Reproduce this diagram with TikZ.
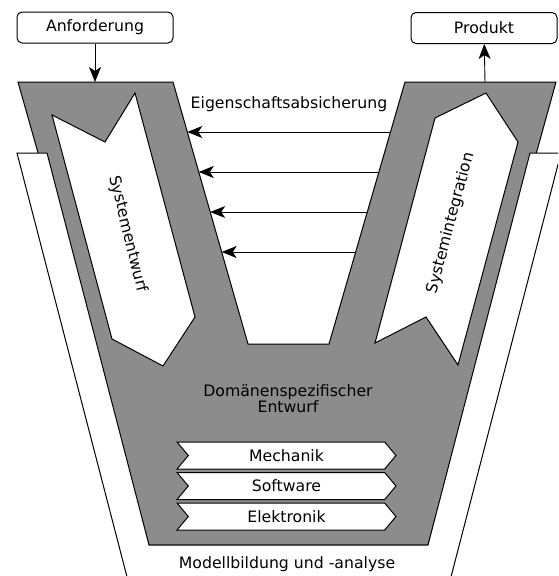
\documentclass[tikz,border=0pt]{standalone}
\usepackage{fontspec}
\setmainfont{DejaVu Sans}
\usetikzlibrary{arrows.meta,calc,shapes.symbols}
\definecolor{phasegray}{RGB}{140,140,140}
\tikzset{
    phase/.style={draw,line width=1pt,fill=phasegray},
    track/.style={draw,line width=1pt,fill=white},
    block/.style={draw,line width=1pt,fill=white,rounded corners=5pt,minimum width=#1,minimum height=31pt},
    discipline/.style={
        draw,line width=1pt,fill=white,shape=signal,signal from=west,signal to=east,
        signal pointer angle=100,minimum width=219pt,minimum height=27pt,inner sep=0pt
    },
    flow/.style={line width=0.9pt,-{Stealth[length=15pt,width=12pt,inset=4pt]}}
}
\begin{document}
\begin{tikzpicture}[x=1pt,y=-1pt,font=\fontsize{15.7}{15}\selectfont]
\useasboundingbox (0,0) rectangle (558,576);
\clip (0,0) rectangle (558,576);
\coordinate (lt) at (173,82);
\coordinate (lb) at (248,344);
\coordinate (rb) at (329,344);
\coordinate (rt) at (405,82);
\coordinate (in) at (95,82);
\coordinate (out) at (485,82);
\draw[phase] (18,82) -- (lt) -- (lb) -- (rb) -- (rt) -- (556,82) -- (428,545) -- (149,545) -- cycle;
\draw[track] (17,153) -- (47,153) -- (149,545) -- (428,545) -- (530,153) -- (561,153) -- (445,600) -- (133,600) -- cycle;
\draw[track] (52,115) -- (105,142) -- (135,93) -- (195,317) -- (163,366) -- (112,339) -- cycle;
\draw[track] (486,93) -- (518,142) -- (458,365) -- (426,317) -- (375,343) -- (435,118) -- cycle;
\node[rotate=-76] (entwurf) at (128,234) {Systementwurf};
\node[rotate=75] (integration) at (451,223) {Systemintegration};
\node (absicherung) at (289,104) {Eigenschaftsabsicherung};
\node[align=center] (domaene) at (288,399) {Domänenspezifischer\\Entwurf};
\node (modell) at (287,564) {Modellbildung und -analyse};
\node[discipline] (mech) at (286.5,455.5) {Mechanik};
\node[discipline] (soft) at (286.5,486) {Software};
\node[discipline] (elek) at (286.5,516.5) {Elektronik};
\node[block=156pt] (anf) at (95,27.5) {Anforderung};
\node[block=146pt] (prod) at (484,28) {Produkt};
\draw[flow] (anf) -- (in);
\draw[flow] (out) -- (prod);
\foreach \y in {132,172,212,252}
    \draw[flow] ($(rt)!{(\y-82)/262}!(rb)$) -- ($(lt)!{(\y-82)/262}!(lb)$);
\end{tikzpicture}
\end{document}
